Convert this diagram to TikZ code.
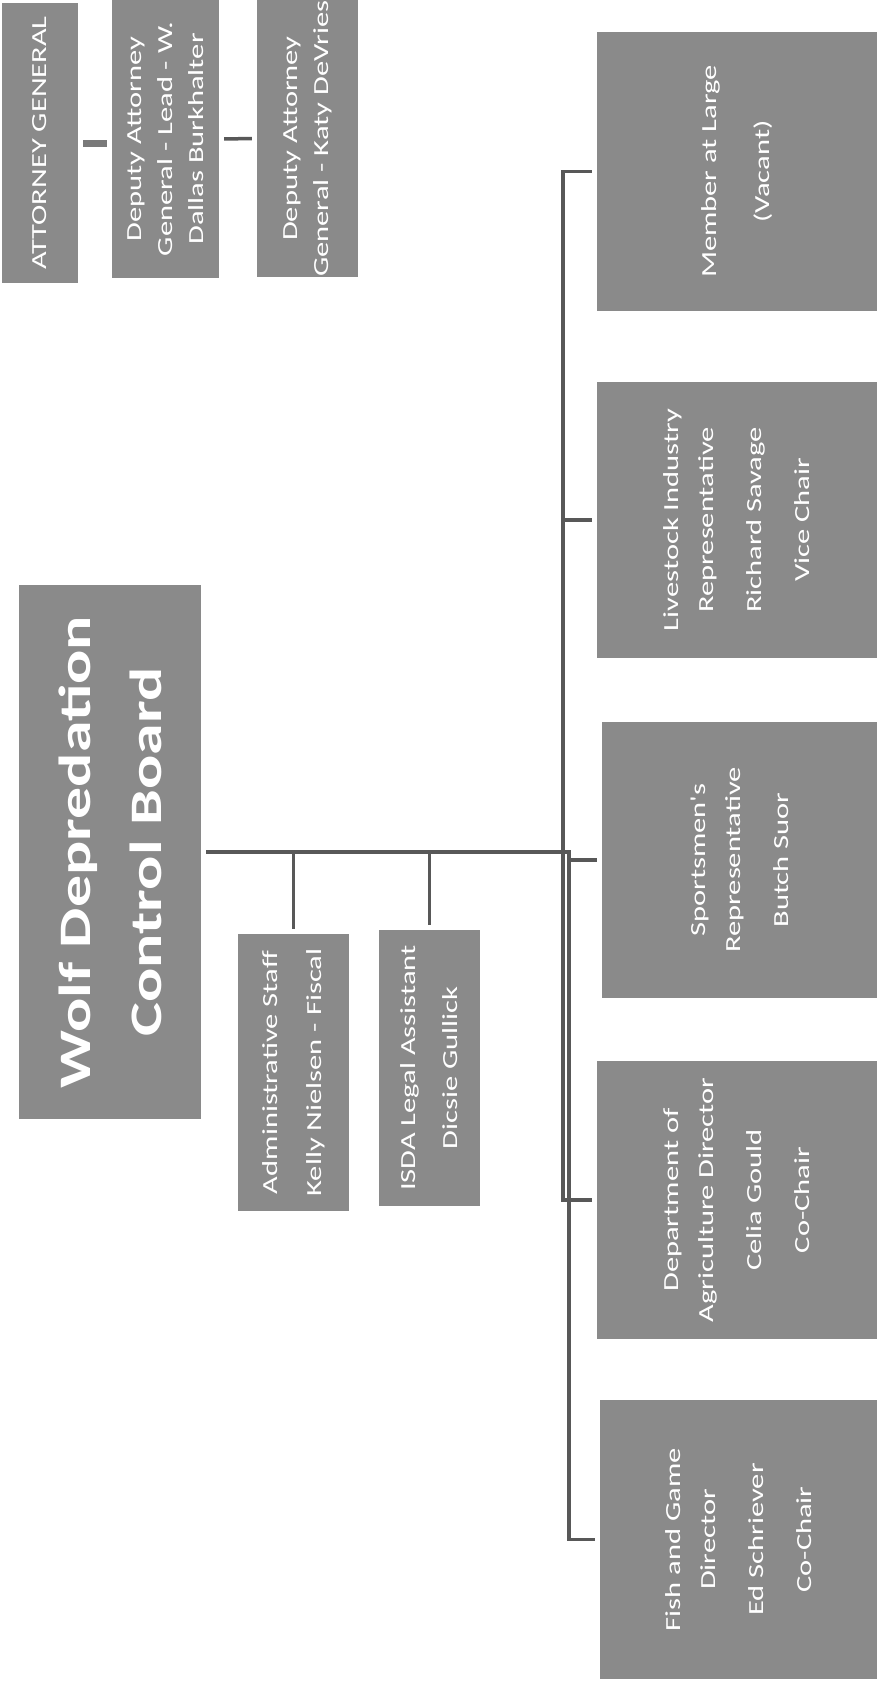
\documentclass[tikz,border=0pt]{standalone}
\usepackage{fontspec}
\setmainfont{Carlito}
\newfontfamily\orgfont[FakeStretch=1.42]{Carlito}
\usepackage{tikz}

\definecolor{boxgray}{RGB}{138,138,138}
\definecolor{linkgray}{RGB}{88,88,88}

\tikzset{
  orgbox/.style={fill=boxgray, text=white, rotate=90, inner sep=0pt, align=center,
    font=\orgfont\fontsize{21.5}{31}\selectfont},
  seatbox/.style={orgbox, font=\orgfont\fontsize{21.5}{35}\selectfont},
  link/.style={draw=linkgray, line width=3.5pt, shorten <=5pt, shorten >=5pt},
  stub/.style={draw=linkgray, line width=3.5pt, shorten >=5pt},
}

\begin{document}
\begin{tikzpicture}[x=1pt,y=-1pt]
\useasboundingbox (0,0) rectangle (877,1684);

% legal counsel
\node[orgbox, minimum width=280, minimum height=76] (ag) at (40,143) {ATTORNEY GENERAL};
\node[orgbox, minimum width=278, minimum height=107] (dep1) at (165.5,139)
  {Deputy Attorney\\General - Lead - W.\\Dallas Burkhalter};
\node[orgbox, minimum width=277, minimum height=101] (dep2) at (307.5,138.5)
  {Deputy Attorney\\General - Katy DeVries};

% board and staff
\node[orgbox, minimum width=534, minimum height=182,
  font=\orgfont\bfseries\fontsize{45}{71}\selectfont] (board) at (110,852)
  {Wolf Depredation\\Control Board};
\node[orgbox, minimum width=277, minimum height=111] (admin) at (293.5,1072.5)
  {Administrative Staff\\[13pt]Kelly Nielsen - Fiscal};
\node[orgbox, minimum width=276, minimum height=101] (isda) at (429.5,1068)
  {ISDA Legal Assistant\\[11pt]Dicsie Gullick};

% board members
\node[seatbox, minimum width=279, minimum height=280] (member) at (737,171.5)
  {Member at Large\\[18pt](Vacant)};
\node[seatbox, minimum width=276, minimum height=280] (livestock) at (737,520)
  {Livestock Industry\\Representative\\[13pt]Richard Savage\\[13pt]Vice Chair};
\node[seatbox, minimum width=276, minimum height=275] (sports) at (739.5,860)
  {Sportsmen's\\Representative\\[13pt]Butch Suor};
\node[seatbox, minimum width=278, minimum height=280] (agri) at (737,1200)
  {Department of\\Agriculture Director\\[13pt]Celia Gould\\[13pt]Co-Chair};
\node[seatbox, minimum width=279, minimum height=277] (fish) at (738.5,1539.5)
  {Fish and Game\\Director\\[13pt]Ed Schriever\\[13pt]Co-Chair};

\coordinate (busA) at (563,0);
\coordinate (busB) at (569,0);

\draw[link, line width=7pt, draw=linkgray!80] (ag.south) -- (ag.south -| dep1.north);
\draw[link] (dep1.south) -- (dep2.north);

\draw[link] (board.south) -- (busB |- board.south) |- (fish.north);
\draw[stub] (admin.east |- board.south) -- (admin.east);
\draw[stub] (isda.east |- board.south) -- (isda.east);
\draw[link] (member.north) -| (busA |- agri.north) -- (agri.north);
\draw[stub] (busA |- livestock.north) -- (livestock.north);
\draw[stub] (busB |- sports.north) -- (sports.north);
\end{tikzpicture}
\end{document}
